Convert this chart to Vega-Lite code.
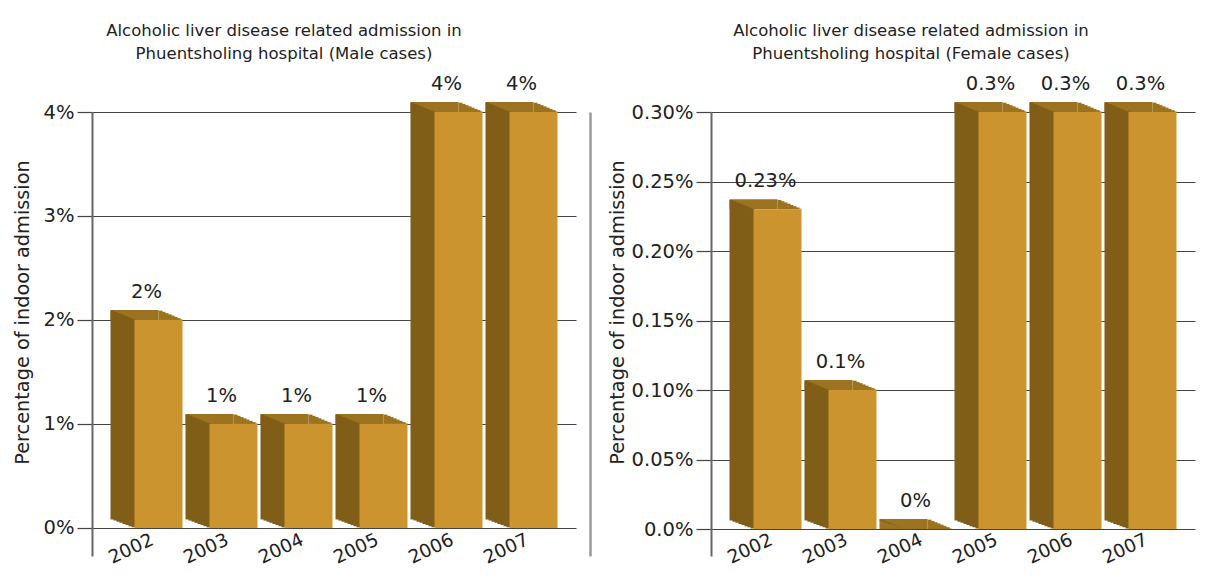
{
  "$schema": "https://vega.github.io/schema/vega-lite/v6.json",
  "padding": {"left": 13, "top": 22, "right": 5, "bottom": 0},
  "spacing": 18,
  "config": {
    "font": "DejaVu Sans",
    "view": {"stroke": null},
    "axis": {"labelColor": "#222", "titleColor": "#222", "labelFontSize": 19.5, "titleFontWeight": "normal"}
  },
  "datasets": {
    "male": [
      {"year": "2002", "share": 0.02},
      {"year": "2003", "share": 0.01},
      {"year": "2004", "share": 0.01},
      {"year": "2005", "share": 0.01},
      {"year": "2006", "share": 0.04},
      {"year": "2007", "share": 0.04}
    ],
    "female": [
      {"year": "2002", "share": 0.0023},
      {"year": "2003", "share": 0.001},
      {"year": "2004", "share": 0},
      {"year": "2005", "share": 0.003},
      {"year": "2006", "share": 0.003},
      {"year": "2007", "share": 0.003}
    ]
  },
  "hconcat": [
    {
      "width": 484,
      "height": 444,
      "title": {
        "text": ["Alcoholic liver disease related admission in", "Phuentsholing hospital (Male cases)"],
        "fontSize": 16.5, "fontWeight": "normal", "lineHeight": 23, "color": "#222", "dx": -50, "offset": 12
      },
      "data": {"name": "male"},
      "encoding": {
        "x": {
          "field": "year", "type": "ordinal",
          "scale": {"paddingInner": 0, "paddingOuter": 0.185, "round": true},
          "axis": {"title": null, "domain": false, "ticks": false, "grid": false, "labelAngle": -25, "labelAlign": "right", "labelBaseline": "top", "labelFontSize": 18.5, "labelOffset": 2, "labelPadding": 2, "offset": -28}
        },
        "y": {"field": "share", "type": "quantitative", "scale": {"domain": [-0.0027, 0.04], "nice": false, "zero": false}, "axis": null}
      },
      "resolve": {"axis": {"y": "independent"}},
      "layer": [
        {"mark": {"type": "bar", "color": "#9B7321", "width": 48, "xOffset": -12, "yOffset": -10, "y2Offset": 0}, "encoding": {"y2": {"field": "share"}}},
        {"mark": {"type": "bar", "color": "#9B7321", "width": 4, "xOffset": 14, "yOffset": -9.375, "y2Offset": 0}, "encoding": {"y2": {"field": "share"}}},
        {"mark": {"type": "bar", "color": "#9B7321", "width": 4, "xOffset": 17, "yOffset": -8.125, "y2Offset": 0}, "encoding": {"y2": {"field": "share"}}},
        {"mark": {"type": "bar", "color": "#9B7321", "width": 4, "xOffset": 20, "yOffset": -6.875, "y2Offset": 0}, "encoding": {"y2": {"field": "share"}}},
        {"mark": {"type": "bar", "color": "#9B7321", "width": 4, "xOffset": 23, "yOffset": -5.625, "y2Offset": 0}, "encoding": {"y2": {"field": "share"}}},
        {"mark": {"type": "bar", "color": "#9B7321", "width": 4, "xOffset": 26, "yOffset": -4.375, "y2Offset": 0}, "encoding": {"y2": {"field": "share"}}},
        {"mark": {"type": "bar", "color": "#9B7321", "width": 4, "xOffset": 29, "yOffset": -3.125, "y2Offset": 0}, "encoding": {"y2": {"field": "share"}}},
        {"mark": {"type": "bar", "color": "#9B7321", "width": 4, "xOffset": 32, "yOffset": -1.875, "y2Offset": 0}, "encoding": {"y2": {"field": "share"}}},
        {"mark": {"type": "bar", "color": "#9B7321", "width": 3, "xOffset": 34.5, "yOffset": -0.625, "y2Offset": 0}, "encoding": {"y2": {"field": "share"}}},
        {"mark": {"type": "bar", "color": "#805E18", "width": 4, "xOffset": -34, "yOffset": -9.375, "y2Offset": -8.44}, "encoding": {"y2": {"datum": 0}}},
        {"mark": {"type": "bar", "color": "#805E18", "width": 4, "xOffset": -31, "yOffset": -8.125, "y2Offset": -7.31}, "encoding": {"y2": {"datum": 0}}},
        {"mark": {"type": "bar", "color": "#805E18", "width": 4, "xOffset": -28, "yOffset": -6.875, "y2Offset": -6.19}, "encoding": {"y2": {"datum": 0}}},
        {"mark": {"type": "bar", "color": "#805E18", "width": 4, "xOffset": -25, "yOffset": -5.625, "y2Offset": -5.06}, "encoding": {"y2": {"datum": 0}}},
        {"mark": {"type": "bar", "color": "#805E18", "width": 4, "xOffset": -22, "yOffset": -4.375, "y2Offset": -3.94}, "encoding": {"y2": {"datum": 0}}},
        {"mark": {"type": "bar", "color": "#805E18", "width": 4, "xOffset": -19, "yOffset": -3.125, "y2Offset": -2.81}, "encoding": {"y2": {"datum": 0}}},
        {"mark": {"type": "bar", "color": "#805E18", "width": 4, "xOffset": -16, "yOffset": -1.875, "y2Offset": -1.69}, "encoding": {"y2": {"datum": 0}}},
        {"mark": {"type": "bar", "color": "#805E18", "width": 4, "xOffset": -13, "yOffset": -0.625, "y2Offset": -0.56}, "encoding": {"y2": {"datum": 0}}},
        {
          "mark": {"type": "bar", "color": "#CC942E", "width": 48, "xOffset": 12},
          "encoding": {
            "y": {
              "field": "share", "type": "quantitative",
              "axis": {"orient": "left", "values": [0, 0.01, 0.02, 0.03, 0.04], "format": ".0%", "grid": true, "gridColor": "#444", "gridWidth": 1.2, "domainColor": "#666", "domainWidth": 2, "tickColor": "#444", "tickWidth": 1.2, "tickSize": 15, "labelPadding": 3, "title": "Percentage of indoor admission", "titleFontSize": 19.3, "titlePadding": 11, "titleY": 200}
            },
            "y2": {"datum": 0}
          }
        },
        {
          "mark": {"type": "text", "dy": -28, "fontSize": 19.5, "color": "#222"},
          "encoding": {
            "text": {"field": "share", "type": "quantitative", "format": ".2~%"},
            "y": {
              "field": "share", "type": "quantitative",
              "axis": {"orient": "right", "offset": 14, "labels": false, "ticks": false, "grid": false, "title": null, "domainColor": "#9a9a9a", "domainWidth": 2.5}
            }
          }
        }
      ]
    },
    {
      "width": 484,
      "height": 444,
      "title": {
        "text": ["Alcoholic liver disease related admission in", "Phuentsholing hospital (Female cases)"],
        "fontSize": 16.5, "fontWeight": "normal", "lineHeight": 23, "color": "#222", "dx": -42, "offset": 12
      },
      "data": {"name": "female"},
      "encoding": {
        "x": {
          "field": "year", "type": "ordinal",
          "scale": {"paddingInner": 0, "paddingOuter": 0.185, "round": true},
          "axis": {"title": null, "domain": false, "ticks": false, "grid": false, "labelAngle": -25, "labelAlign": "right", "labelBaseline": "top", "labelFontSize": 18.5, "labelOffset": 2, "labelPadding": 2, "offset": -28}
        },
        "y": {"field": "share", "type": "quantitative", "scale": {"domain": [-0.000194, 0.003], "nice": false, "zero": false}, "axis": null}
      },
      "resolve": {"axis": {"y": "independent"}},
      "layer": [
        {"mark": {"type": "bar", "color": "#9B7321", "width": 48, "xOffset": -12, "yOffset": -10, "y2Offset": 0}, "encoding": {"y2": {"field": "share"}}},
        {"mark": {"type": "bar", "color": "#9B7321", "width": 4, "xOffset": 14, "yOffset": -9.375, "y2Offset": 0}, "encoding": {"y2": {"field": "share"}}},
        {"mark": {"type": "bar", "color": "#9B7321", "width": 4, "xOffset": 17, "yOffset": -8.125, "y2Offset": 0}, "encoding": {"y2": {"field": "share"}}},
        {"mark": {"type": "bar", "color": "#9B7321", "width": 4, "xOffset": 20, "yOffset": -6.875, "y2Offset": 0}, "encoding": {"y2": {"field": "share"}}},
        {"mark": {"type": "bar", "color": "#9B7321", "width": 4, "xOffset": 23, "yOffset": -5.625, "y2Offset": 0}, "encoding": {"y2": {"field": "share"}}},
        {"mark": {"type": "bar", "color": "#9B7321", "width": 4, "xOffset": 26, "yOffset": -4.375, "y2Offset": 0}, "encoding": {"y2": {"field": "share"}}},
        {"mark": {"type": "bar", "color": "#9B7321", "width": 4, "xOffset": 29, "yOffset": -3.125, "y2Offset": 0}, "encoding": {"y2": {"field": "share"}}},
        {"mark": {"type": "bar", "color": "#9B7321", "width": 4, "xOffset": 32, "yOffset": -1.875, "y2Offset": 0}, "encoding": {"y2": {"field": "share"}}},
        {"mark": {"type": "bar", "color": "#9B7321", "width": 3, "xOffset": 34.5, "yOffset": -0.625, "y2Offset": 0}, "encoding": {"y2": {"field": "share"}}},
        {"mark": {"type": "bar", "color": "#805E18", "width": 4, "xOffset": -34, "yOffset": -9.375, "y2Offset": -8.44}, "encoding": {"y2": {"datum": 0}}},
        {"mark": {"type": "bar", "color": "#805E18", "width": 4, "xOffset": -31, "yOffset": -8.125, "y2Offset": -7.31}, "encoding": {"y2": {"datum": 0}}},
        {"mark": {"type": "bar", "color": "#805E18", "width": 4, "xOffset": -28, "yOffset": -6.875, "y2Offset": -6.19}, "encoding": {"y2": {"datum": 0}}},
        {"mark": {"type": "bar", "color": "#805E18", "width": 4, "xOffset": -25, "yOffset": -5.625, "y2Offset": -5.06}, "encoding": {"y2": {"datum": 0}}},
        {"mark": {"type": "bar", "color": "#805E18", "width": 4, "xOffset": -22, "yOffset": -4.375, "y2Offset": -3.94}, "encoding": {"y2": {"datum": 0}}},
        {"mark": {"type": "bar", "color": "#805E18", "width": 4, "xOffset": -19, "yOffset": -3.125, "y2Offset": -2.81}, "encoding": {"y2": {"datum": 0}}},
        {"mark": {"type": "bar", "color": "#805E18", "width": 4, "xOffset": -16, "yOffset": -1.875, "y2Offset": -1.69}, "encoding": {"y2": {"datum": 0}}},
        {"mark": {"type": "bar", "color": "#805E18", "width": 4, "xOffset": -13, "yOffset": -0.625, "y2Offset": -0.56}, "encoding": {"y2": {"datum": 0}}},
        {
          "mark": {"type": "bar", "color": "#CC942E", "width": 48, "xOffset": 12},
          "encoding": {
            "y": {
              "field": "share", "type": "quantitative",
              "axis": {"orient": "left", "values": [0, 0.0005, 0.001, 0.0015, 0.002, 0.0025, 0.003], "labelExpr": "datum.value === 0 ? '0.0%' : format(datum.value, '.2%')", "grid": true, "gridColor": "#444", "gridWidth": 1.2, "domainColor": "#666", "domainWidth": 2, "tickColor": "#444", "tickWidth": 1.2, "tickSize": 15, "labelPadding": 3, "title": "Percentage of indoor admission", "titleFontSize": 19.3, "titlePadding": 4, "titleY": 200}
            },
            "y2": {"datum": 0}
          }
        },
        {
          "mark": {"type": "text", "dy": -28, "fontSize": 19.5, "color": "#222"},
          "encoding": {
            "text": {"field": "share", "type": "quantitative", "format": ".2~%"}
          }
        }
      ]
    }
  ]
}
